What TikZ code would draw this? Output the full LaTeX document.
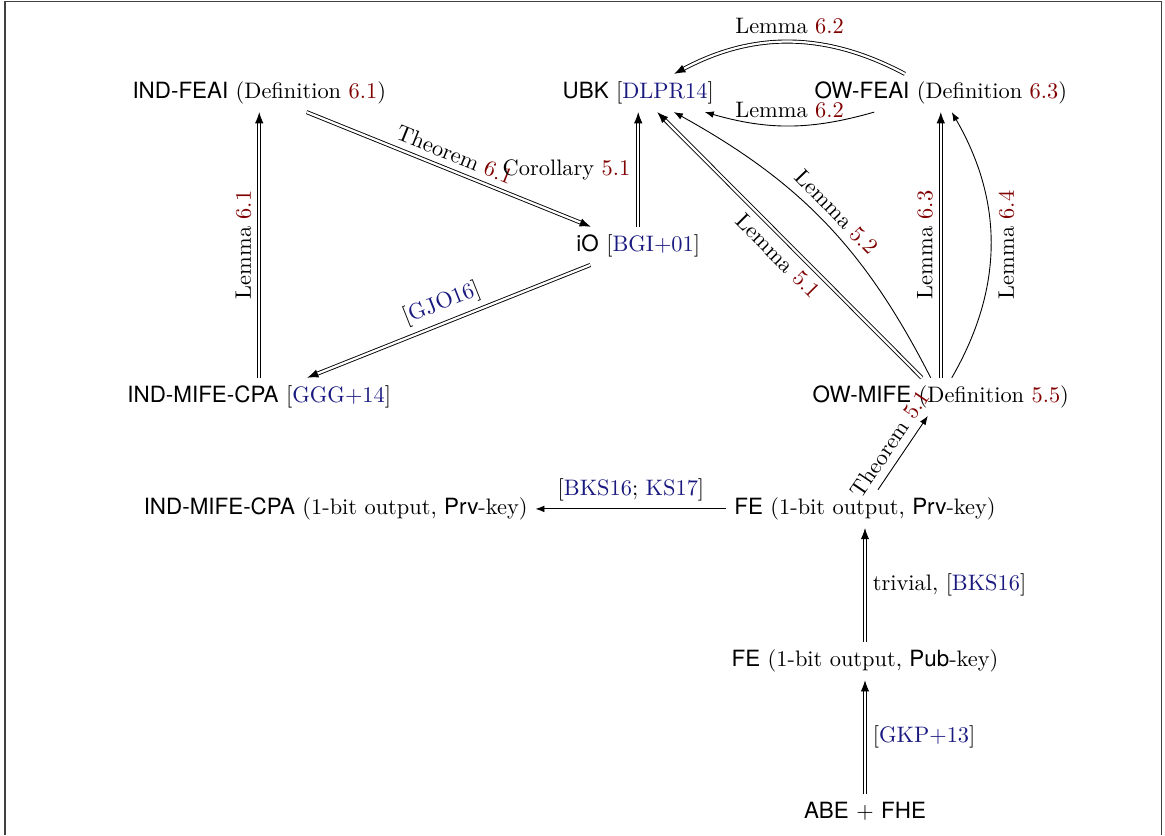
\documentclass[tikz,border=0pt]{standalone}
\usepackage{fontspec}
\setsansfont{TeX Gyre Heros}
\usetikzlibrary{arrows.meta}
\definecolor{refred}{rgb}{0.5,0,0}
\definecolor{citeblue}{rgb}{0.1,0.1,0.5}
\newcommand{\refnum}[1]{\textcolor{refred}{#1}}
\newcommand{\citekey}[1]{\textcolor{citeblue}{#1}}
\tikzstyle{implication} = [draw, double, double distance=1pt, -{Latex[length=5pt, width=3.8pt]}]
\tikzstyle{reduction} = [draw, -{Latex[length=4pt, width=3pt]}]

\begin{document}
\begin{tikzpicture}
    \useasboundingbox (0,0) rectangle (18.29,-13.11);
    \draw[black!75, line width=0.6pt] (0.08,-13.11) -- (0.08,-0.02) -- (18.24,-0.02) -- (18.24,-13.11);

    \node (indfeai) at (4.07,-1.46) {\textsf{IND-FEAI} (Definition \refnum{6.1})};
    \node (ubk) at (10.02,-1.46) {\textsf{UBK} [\citekey{DLPR14}]};
    \node (owfeai) at (14.77,-1.46) {\textsf{OW-FEAI} (Definition \refnum{6.3})};
    \node (io) at (10.02,-3.86) {\textsf{iO} [\citekey{BGI+01}]};
    \node (indmife) at (4.07,-6.23) {\textsf{IND-MIFE-CPA} [\citekey{GGG+14}]};
    \node (owmife) at (14.77,-6.23) {\textsf{OW-MIFE} (Definition \refnum{5.5})};
    \node (indmifebit) at (5.27,-7.99) {\textsf{IND-MIFE-CPA} (1-bit output, \textsf{Prv}-key)};
    \node (feprv) at (13.58,-7.99) {\textsf{FE} (1-bit output, \textsf{Prv}-key)};
    \node (fepub) at (13.58,-10.38) {\textsf{FE} (1-bit output, \textsf{Pub}-key)};
    \node (abefhe) at (13.58,-12.74) {\textsf{ABE} $+$ \textsf{FHE}};

    \path [implication] (indmife) -- (indfeai) node[midway, above, sloped] {Lemma \refnum{6.1}};
    \path [implication] (indfeai) -- (io) node[midway, above, sloped] {Theorem \refnum{6.1}};
    \path [implication] (io) -- (ubk) node[midway, left] {Corollary \refnum{5.1}};
    \path [implication] (io) -- (indmife) node[midway, above, sloped] {[\citekey{GJO16}]};

    \path [implication] (owmife) -- (ubk) node[midway, below, sloped] {Lemma \refnum{5.1}};
    \path [reduction] (owmife) to[bend right=17] node[midway, above, sloped] {Lemma \refnum{5.2}} (ubk);
    \path [implication] (owmife) -- (owfeai) node[midway, above, sloped] {Lemma \refnum{6.3}};
    \path [reduction] (owmife) to[bend right=30] node[midway, below, sloped] {Lemma \refnum{6.4}} (owfeai);
    \path [implication] (owfeai) to[bend right=28] node[midway, above] {Lemma \refnum{6.2}} (ubk);
    \path [reduction] (owfeai) to[bend left=16] node[midway, above] {Lemma \refnum{6.2}} (ubk);

    \path [reduction] (feprv) -- (owmife) node[midway, above, sloped] {Theorem \refnum{5.1}};
    \path [reduction] (feprv) -- (indmifebit) node[midway, above] {[\citekey{BKS16}; \citekey{KS17}]};
    \path [implication] (fepub) -- (feprv) node[midway, right] {trivial, [\citekey{BKS16}]};
    \path [implication] (abefhe) -- (fepub) node[midway, right] {[\citekey{GKP+13}]};
\end{tikzpicture}
\end{document}
